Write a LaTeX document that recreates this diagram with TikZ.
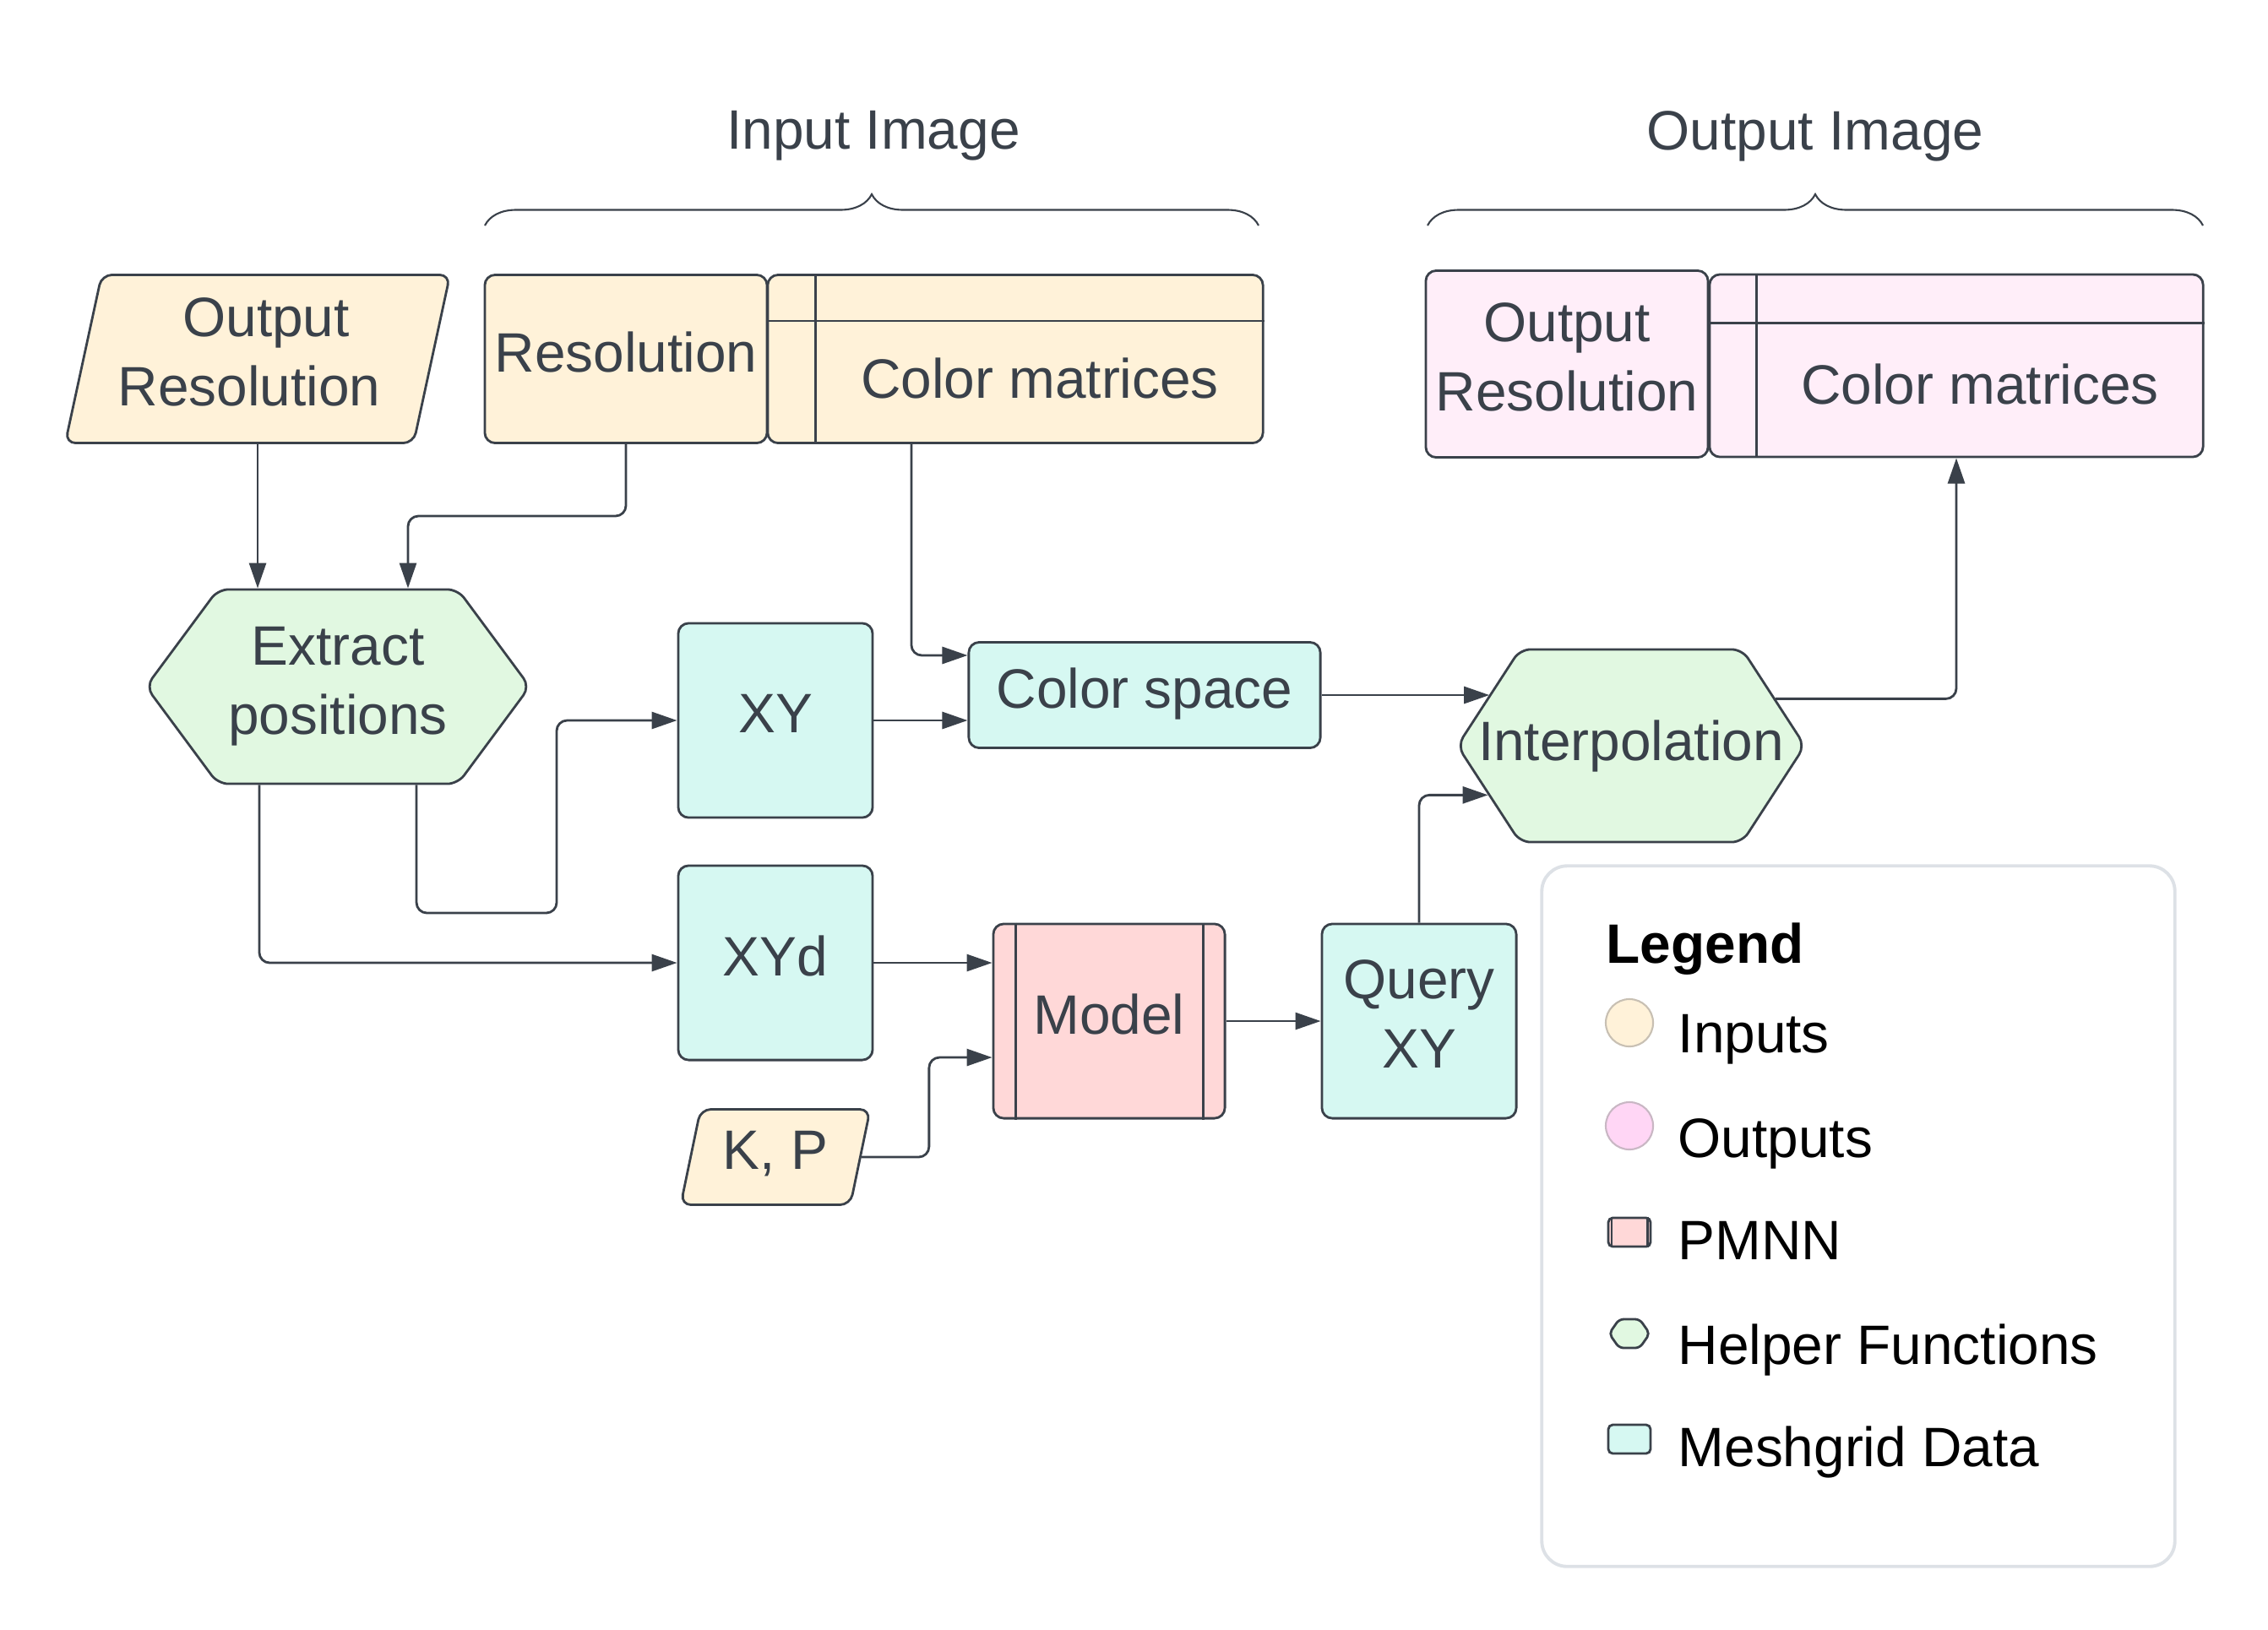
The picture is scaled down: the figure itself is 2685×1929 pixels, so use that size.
\documentclass[tikz,border=0pt]{standalone}
\usepackage{fontspec}
\setmainfont{Liberation Sans}
\usepackage{tikz}
\usetikzlibrary{arrows.meta,positioning,calc,shapes.geometric,shapes.symbols,decorations.pathreplacing}
\definecolor{ink}{HTML}{3A414A}
\definecolor{cream}{HTML}{FFF2D9}
\definecolor{blush}{HTML}{FFEEF9}
\definecolor{rose}{HTML}{FFD6F5}
\definecolor{mint}{HTML}{E1F8E1}
\definecolor{aqua}{HTML}{D6F8F2}
\definecolor{salmon}{HTML}{FFD8D8}
\definecolor{frame}{HTML}{DDE1E6}
\definecolor{inring}{HTML}{C8C0B3}
\definecolor{outring}{HTML}{C9B7C4}
\newcommand{\diagfont}{\fontsize{18.7}{23.3}\selectfont}
\tikzset{
  base/.style={draw=ink,line width=0.8pt,rounded corners=3.5pt,text=ink,font=\diagfont,align=center,inner sep=0pt,text depth=4.6pt},
  inbox/.style={base,fill=cream},
  outbox/.style={base,fill=blush},
  inpara/.style={base,fill=cream,trapezium,trapezium left angle=75,trapezium right angle=105,trapezium stretches=true},
  helper/.style={base,fill=mint,signal,signal to=west and east,signal pointer angle=#1},
  mesh/.style={base,fill=aqua,minimum width=2.3cm,minimum height=2.3cm},
  pmnn/.style={base,fill=salmon},
  arrow/.style={-{Triangle[length=0.3cm,width=0.2cm]},draw=ink,line width=0.8pt,rounded corners=3.5pt},
  lbl/.style={text=ink,font=\diagfont,align=center},
  brc/.style={draw=ink,line width=0.6pt,decorate,decoration={brace,amplitude=0.37cm}},
  leg/.style={text=black,font=\diagfont,anchor=base west,inner sep=0pt},
}

\begin{document}
\begin{tikzpicture}[x=0.01cm,y=0.01cm]
  \useasboundingbox (0,0) rectangle (2685,-1929);
  % titles
  \node[lbl] (tin) at (1034,-161) {Input Image};
  \node[lbl] (tout) at (2149,-161) {Output Image};
  \draw[brc] (574,-267) -- (1490,-267);
  \draw[brc] (1690,-267) -- (2608,-267);
  % input image
  \node[inpara,minimum width=4.56cm,minimum height=1.99cm] (oresin) at (305,-425) {\hspace*{0.2cm}Output\\Resolution\hspace*{0.2cm}};
  \node[inbox,minimum width=3.34cm,minimum height=1.99cm] (res) at (741,-425) {Resolution};
  \node[inbox,minimum width=5.86cm,minimum height=1.99cm] (cin) at (1202,-425) {};
  \draw[ink,line width=0.8pt] ($(cin.north west)+(0,-56)$) -- ($(cin.north east)+(0,-56)$)
    ($(cin.north west)+(58,0)$) -- ($(cin.south west)+(58,0)$);
  \node[lbl] (cintxt) at (1231,-448) {Color matrices};
  % output image
  \node[outbox,minimum width=3.34cm,minimum height=2.21cm] (orout) at (1855,-431) {Output\\Resolution};
  \node[outbox,minimum width=5.84cm,minimum height=2.16cm] (cout) at (2316,-433) {};
  \draw[ink,line width=0.8pt] ($(cout.north west)+(0,-59)$) -- ($(cout.north east)+(0,-59)$)
    ($(cout.north west)+(57,0)$) -- ($(cout.south west)+(57,0)$);
  \node[lbl] (couttxt) at (2344,-455) {Color matrices};
  % processing
  \node[helper=107,minimum width=4.54cm,minimum height=2.3cm] (ext) at (400,-813) {};
  \node[lbl] (exttxt) at (ext) {Extract\\positions};
  \node[mesh] (xy) at (918,-853) {XY};
  \node[mesh] (xyd) at (918,-1140) {XYd};
  \node[mesh,minimum width=4.16cm,minimum height=1.25cm] (cspace) at (1355,-823) {Color space};
  \node[helper=114,minimum width=4.11cm,minimum height=2.28cm] (interp) at (1931,-883) {};
  \node[lbl] (interptxt) at (interp) {Interpolation};
  \node[pmnn,minimum width=2.74cm,minimum height=2.3cm] (model) at (1313,-1209) {Model};
  \draw[ink,line width=0.8pt] ($(model.north west)+(28,0)$) -- ($(model.south west)+(28,0)$)
    ($(model.north east)+(-27,0)$) -- ($(model.south east)+(-27,0)$);
  \node[mesh] (query) at (1680,-1209) {Query\\XY};
  \node[inpara,minimum width=2.25cm,minimum height=1.13cm] (kp) at (918,-1370) {K, P};
  % connectors
  \coordinate (rbend) at (483,-611);
  \coordinate (dbend) at (659,-1081);
  \draw[arrow] (oresin.south) -- (oresin.south |- ext.north);
  \draw[arrow] (res.south) |- (rbend) -- (rbend |- ext.north);
  \draw[arrow] ([xshift=-1.23cm]cin.south) |- ([yshift=0.47cm]cspace.west);
  \draw[arrow] ([xshift=0.93cm]ext.south) |- (dbend) |- (xy.west);
  \draw[arrow] ([xshift=-0.93cm]ext.south) |- (xyd.west);
  \draw[arrow] (xy.east) -- (xy.east -| cspace.west);
  \draw[arrow] (cspace.east) -- (cspace.east -| interp.160);
  \draw[arrow] (interp.18) -| (cout.south);
  \draw[arrow] (xyd.east) -- (xyd.east -| model.west);
  \draw[arrow] (kp.east) -- ++(80,0) |- ([yshift=-0.43cm]model.west);
  \draw[arrow] (model.east) -- (query.west);
  \draw[arrow] (query.north) |- (interp.199);
  % legend
  \node[draw=frame,line width=1.1pt,rounded corners=0.3cm,minimum width=7.49cm,minimum height=8.29cm] (legbox) at (2200,-1440) {};
  \node[leg,font=\diagfont\bfseries] (legtitle) at (1901,-1140) {Legend};
  \node[circle,draw=inring,fill=cream,line width=0.6pt,minimum size=0.56cm,inner sep=0pt] (kin) at (1929,-1211) {};
  \node[leg] (lin) at (1986,-1246) {Inputs};
  \node[circle,draw=outring,fill=rose,line width=0.6pt,minimum size=0.56cm,inner sep=0pt] (kout) at (1929,-1333) {};
  \node[leg] (lout) at (1986,-1370) {Outputs};
  \node[pmnn,minimum width=0.5cm,minimum height=0.34cm,rounded corners=1.5pt] (kpm) at (1929,-1459) {};
  \draw[ink,line width=0.6pt] ($(kpm.north west)+(5,0)$) -- ($(kpm.south west)+(5,0)$)
    ($(kpm.north east)+(-5,0)$) -- ($(kpm.south east)+(-5,0)$);
  \node[leg] (lpm) at (1986,-1491) {PMNN};
  \node[helper=110,minimum width=0.48cm,minimum height=0.34cm,rounded corners=1.5pt] (khelp) at (1929,-1579) {};
  \node[leg] (lhelp) at (1986,-1615) {Helper Functions};
  \node[mesh,minimum width=0.5cm,minimum height=0.34cm,rounded corners=1.5pt] (kmesh) at (1929,-1704) {};
  \node[leg] (lmesh) at (1986,-1736) {Meshgrid Data};
\end{tikzpicture}
\end{document}
